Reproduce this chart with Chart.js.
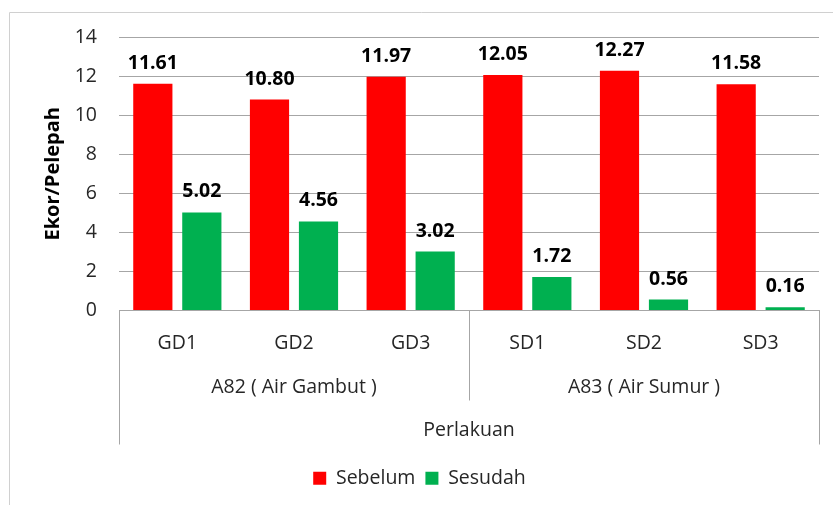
<!DOCTYPE html>
<html>
<head>
<meta charset="utf-8">
<script src="https://cdn.jsdelivr.net/npm/chart.js@4"></script>
<style>
  html, body { margin: 0; padding: 0; background: #fff; }
  #wrap { width: 833px; height: 505px; }
</style>
</head>
<body>
<div id="wrap"><canvas id="chart" width="833" height="505"></canvas></div>
<script>
const categories = ["GD1", "GD2", "GD3", "SD1", "SD2", "SD3"];
const groupNames = ["A82 ( Air Gambut )", "A83 ( Air Sumur )"];
const groupSizes = [3, 3];
const sebelum = [11.61, 10.80, 11.97, 12.05, 12.27, 11.58];
const sesudah = [5.02, 4.56, 3.02, 1.72, 0.56, 0.16];
const yTicks = [0, 2, 4, 6, 8, 10, 12, 14];

const FONT = "'Open Sans', Carlito, Lato, sans-serif";
const TEXT = "#262626";
const LINE = "#a6a6a6";

// frame + category group labels + value labels
const extras = {
  id: "extras",
  beforeDraw(chart) {
    const ctx = chart.ctx;
    ctx.save();
    ctx.strokeStyle = "#d0d0d0";
    ctx.lineWidth = 1;
    ctx.beginPath();
    ctx.moveTo(9.5, 520);
    ctx.lineTo(9.5, 12.5);
    ctx.lineTo(840, 12.5);
    ctx.stroke();
    ctx.restore();
  },
  afterDraw(chart) {
    const ctx = chart.ctx;
    const x = chart.scales.x;
    const base = chart.chartArea.bottom;
    ctx.save();
    // separators below the axis
    ctx.strokeStyle = LINE;
    ctx.lineWidth = 1;
    let start = 0;
    const seps = [[x.left, base + 134]];
    groupSizes.forEach((n, i) => {
      const end = start + n - 1;
      if (i < groupSizes.length - 1) {
        seps.push([(x.getPixelForValue(end) + x.getPixelForValue(end + 1)) / 2, base + 90]);
      }
      start += n;
    });
    seps.push([x.right, base + 134]);
    seps.forEach(([px, bot]) => {
      const xx = Math.round(px) + 0.5;
      ctx.beginPath();
      ctx.moveTo(xx, base);
      ctx.lineTo(xx, bot);
      ctx.stroke();
    });
    // group labels
    ctx.fillStyle = TEXT;
    ctx.font = "19.5px " + FONT;
    ctx.textAlign = "center";
    ctx.textBaseline = "middle";
    start = 0;
    groupSizes.forEach((n, i) => {
      const mid = (x.getPixelForValue(start) + x.getPixelForValue(start + n - 1)) / 2;
      ctx.fillText(groupNames[i], mid, base + 77);
      start += n;
    });
    ctx.fillText("Perlakuan", (x.left + x.right) / 2, base + 120);
    // value labels
    ctx.font = "bold 19.5px " + FONT;
    ctx.fillStyle = "#000";
    ctx.textBaseline = "alphabetic";
    chart.data.datasets.forEach((ds, di) => {
      chart.getDatasetMeta(di).data.forEach((bar, i) => {
        ctx.fillText(ds.data[i].toFixed(2), bar.x, bar.y - 15);
      });
    });
    ctx.restore();
  }
};

new Chart(document.getElementById("chart").getContext("2d"), {
  type: "bar",
  data: {
    labels: categories,
    datasets: [
      { label: "Sebelum", data: sebelum, backgroundColor: "#ff0000",
        categoryPercentage: 0.84, barPercentage: 0.8 },
      { label: "Sesudah", data: sesudah, backgroundColor: "#00b050",
        categoryPercentage: 0.84, barPercentage: 0.8 }
    ]
  },
  options: {
    responsive: false,
    animation: false,
    layout: { padding: { left: 20, right: 14, top: 37, bottom: 7 } },
    plugins: {
      tooltip: { enabled: false },
      legend: {
        position: "bottom",
        labels: {
          font: { family: FONT, size: 19.5 },
          color: TEXT,
          boxWidth: 13,
          boxHeight: 13,
          padding: 10
        }
      }
    },
    scales: {
      x: {
        grid: { display: false, drawTicks: false },
        border: { display: true, color: LINE },
        ticks: { font: { family: FONT, size: 19.5 }, color: TEXT, padding: 21 },
        afterFit: s => { s.height = 148; }
      },
      y: {
        min: 0, max: 14,
        afterBuildTicks: s => { s.ticks = yTicks.map(v => ({ value: v })); },
        grid: { color: LINE, drawTicks: false },
        border: { display: false },
        ticks: { font: { family: FONT, size: 19.5 }, color: TEXT, padding: 22 },
        title: { display: true, text: "Ekor/Pelepah", color: "#000",
                 font: { family: FONT, size: 20, weight: "bold" }, padding: { top: 21, bottom: 0 } },
        afterFit: s => { s.width = 99; }
      }
    }
  },
  plugins: [extras]
});
</script>
</body>
</html>
